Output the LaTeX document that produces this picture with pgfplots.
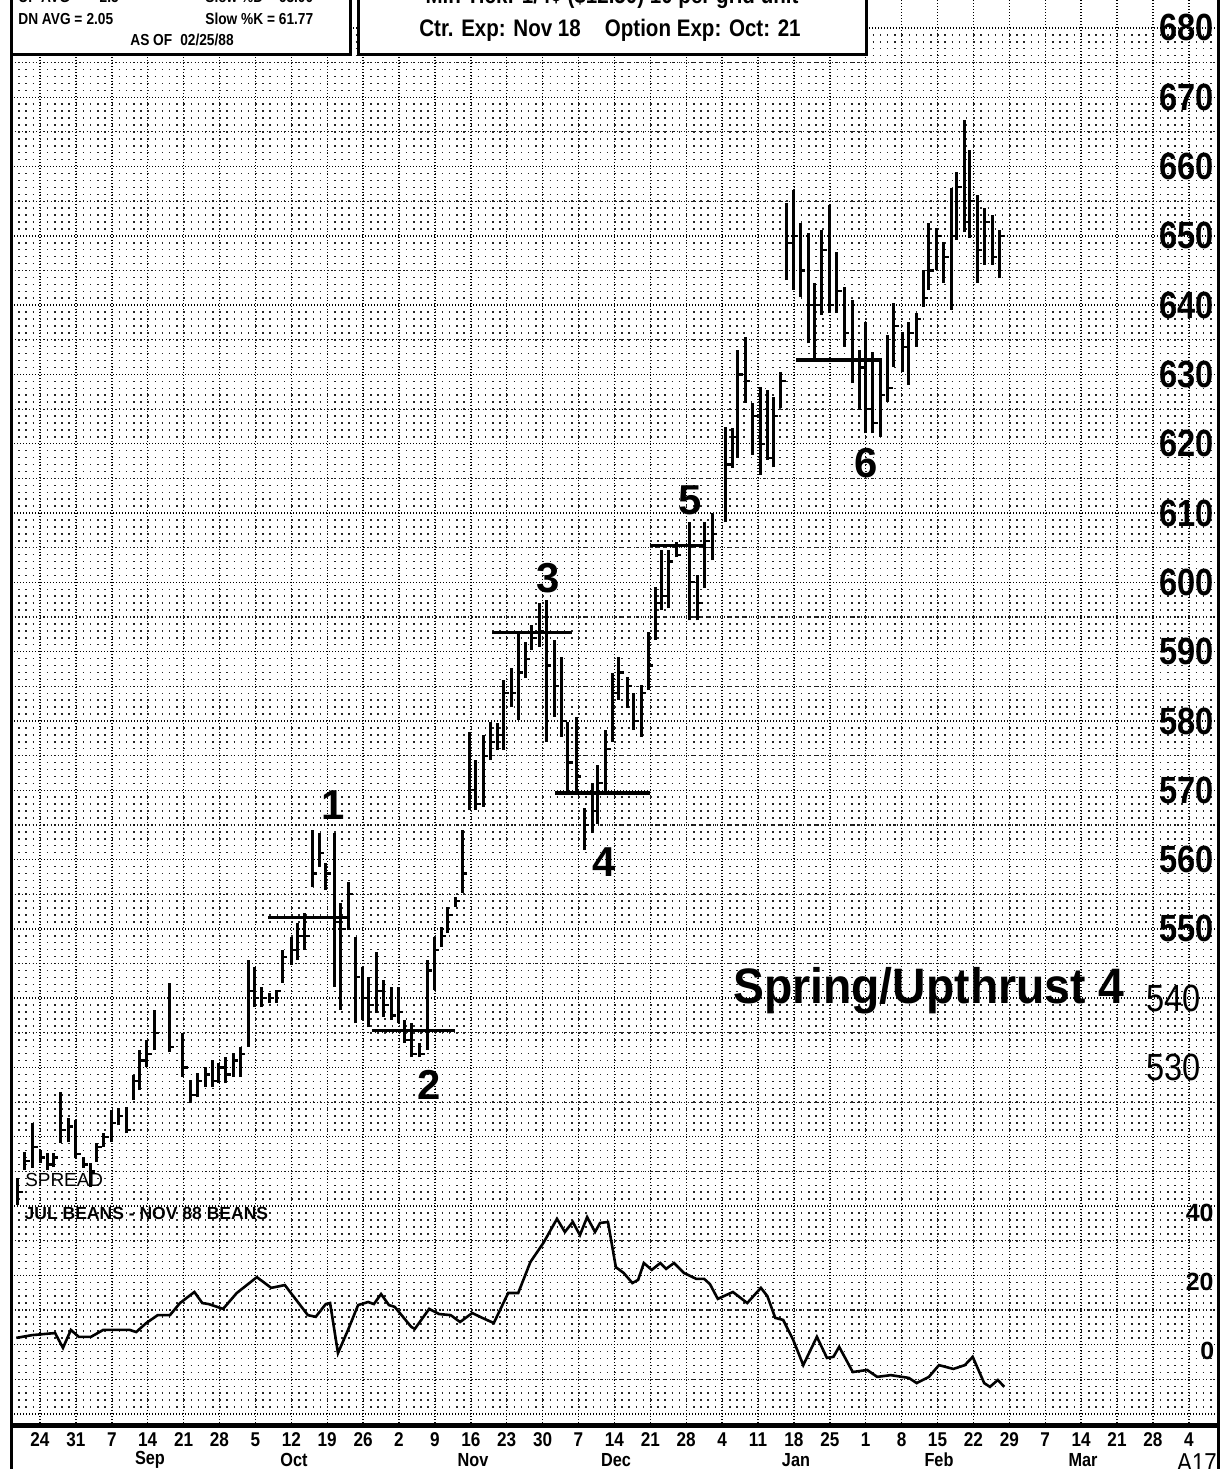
\documentclass[border=0pt]{standalone}
\usepackage{fontspec}
\setmainfont{Liberation Sans}
\newfontfamily\cond{Liberation Sans}[FakeStretch=0.86]
\usepackage{pgfplots}
\usepackage{pgfplotstable}
\pgfplotsset{compat=1.18}

% close tick to the right of a bar
\pgfdeclareplotmark{rtick}{%
  \pgfpathmoveto{\pgfpointorigin}%
  \pgfpathlineto{\pgfpoint{\pgfplotmarksize}{0pt}}%
  \pgfusepathqstroke}

% trading day (0 = Aug 24), high, low, close
\pgfplotstableread{
d     hi     lo     cl
-3.1  514.0  510.2  512
-2.1  517.8  515.2  516.5
-1.0  522.0  515.5  518.5
0.0   518.1  516.2  517
1.0   517.7  515.2  516
1.9   517.7  515.6  517
2.9   526.5  519.1  521
3.9   522.7  519.2  521.5
5.0   522.4  516.9  517.5
6.0   517.1  515.5  516
7.0   516.2  512.7  515
7.9   519.1  516.4  518.5
8.9   520.5  518.5  520
9.9   523.9  519.2  522
10.9  524.1  521.7  523
12.0  524.3  520.5  521
13.0  528.9  525.3  528
13.9  532.5  526.8  531
14.9  534.0  530.0  532
15.9  538.3  532.5  535
18.0  542.2  532.2  533
19.9  535.0  528.6  530
21.0  528.2  524.9  526
21.9  529.2  525.7  528
23.0  530.0  527.2  529
24.0  531.1  527.2  528
24.9  530.6  527.8  530
25.9  531.5  527.8  529
26.9  532.1  528.6  531
27.9  533.0  528.6  532
29.0  545.5  533.0  541
29.9  544.5  538.7  540
30.9  541.6  538.7  540
31.9  540.7  539.3  540
32.9  541.2  539.3  541
33.8  547.0  542.2  546
35.0  548.8  544.8  547
35.9  550.8  545.5  549
36.9  552.3  547.0  549
37.9  564.3  556.0  558
38.9  563.8  558.9  561
39.8  559.5  555.6  558
41.0  563.8  541.6  551
41.9  553.7  538.3  550
42.9  556.8  549.8  555
43.9  548.8  536.4  543
44.9  544.5  536.9  540
45.8  543.1  535.8  539
46.9  546.7  537.9  541
47.9  542.6  537.3  539
48.9  541.6  536.9  537.5
49.9  541.6  536.4  538
50.8  536.9  533.5  534
51.8  536.4  531.5  532
52.9  533.5  531.5  532
53.9  545.5  532.5  544
54.9  548.8  541.2  547
55.9  550.3  547.4  549
56.8  553.2  549.4  552
57.8  554.6  553.2  554
58.8  564.3  555.2  558
59.8  578.4  567.2  570
60.7  574.4  567.2  568
61.7  578.0  567.6  575
62.7  579.8  574.4  577
63.7  579.7  575.8  578
64.6  585.9  575.8  584
65.6  587.6  582.0  584
66.6  592.7  580.1  587
67.6  591.4  586.2  589
68.5  593.8  590.2  592
69.5  597.0  590.7  593
70.5  597.4  577.0  588
71.6  591.7  580.6  585
72.6  589.2  577.7  580
73.5  579.8  569.6  574
74.7  580.6  569.6  572
75.8  567.4  561.4  565
76.9  571.0  563.8  567
77.7  573.6  565.2  571
78.8  578.7  569.6  576
79.7  586.9  577.0  584
80.6  589.2  583.0  587
81.8  586.3  581.9  585
82.7  584.0  578.7  580
83.8  585.2  577.7  584
84.7  592.8  584.4  588
85.7  599.3  591.7  597
86.6  604.6  596.0  598
87.5  604.6  596.3  603
88.6  605.8  603.6  604
90.5  608.7  594.5  600
91.6  601.0  594.5  597
92.6  608.7  599.2  606
93.6  610.0  603.2  607
95.5  622.4  608.7  617
96.4  622.3  616.5  621
97.2  633.5  618.0  630
98.2  635.4  625.9  629
99.3  625.9  618.4  624
100.3 628.2  615.5  620
101.3 627.7  617.7  618
102.1 626.7  616.6  624
103.2 630.4  625.2  629
104.0 654.7  643.6  649
104.9 656.6  642.2  650
105.9 651.8  641.2  645
107.0 650.4  634.5  640
107.9 643.2  632.1  640
108.9 650.8  638.6  648
109.9 654.4  638.9  640
111.0 647.7  638.9  642
112.0 642.6  634.0  636
113.1 640.7  628.7  632
114.1 633.5  624.9  631
115.0 637.5  621.5  625
116.0 633.2  621.5  623
117.0 632.4  621.0  627
118.1 635.7  626.0  628
118.9 640.3  631.1  637
120.1 636.1  630.4  634
121.0 637.5  628.5  636
122.1 638.9  634.0  638
123.0 645.1  639.7  641
123.8 651.8  642.2  645
124.8 651.1  645.1  650
125.9 649.1  643.2  647
126.9 656.9  639.3  650
127.7 659.2  649.4  657
128.7 666.7  650.5  652
129.5 662.4  649.7  655
130.5 655.9  643.2  648
131.6 654.0  645.8  652
132.6 653.0  645.8  647
133.7 650.8  643.9  650
}\bars

\begin{document}
\begin{tikzpicture}[x=0.5bp,y=0.5bp]
\useasboundingbox (0,0) rectangle (1226,1469);
\clip (0,0) rectangle (1226,1469);

% price panel with the chart paper grid
\begin{axis}[
    at={(5.5bp,21.5bp)}, anchor=south west,
    scale only axis, width=603.5bp, height=713bp,
    xmin=-4.04, xmax=164.07, ymin=478.27, ymax=684.04,
    axis line style={draw=none},
    xtick={0,5,...,160}, ytick={480,490,...,680},
    extra y ticks={485,495,...,675}, extra y tick labels={},
    minor y tick num=9,
    xticklabels={}, yticklabels={},
    major tick length=0pt, minor tick length=0pt,
    grid=both,
    major grid style={black, line width=0.7bp, dash pattern=on 0.7bp off 0.8bp},
    minor grid style={black!85, line width=0.75bp, dash pattern=on 0.75bp off 2.84bp},
    extra tick style={major grid style={black!90, line width=0.6bp, dash pattern=on 0.6bp off 1.2bp}},
]
\addplot[draw=none, mark=none,
  error bars/.cd, y dir=plus, y explicit, error mark=none,
  error bar style={draw=black, line width=1.5bp}]
  table[x=d, y=lo, y error expr=\thisrow{hi}-\thisrow{lo}] {\bars};
\addplot[only marks, mark=rtick, mark size=2.4bp,
  mark options={line width=1.1bp, black}]
  table[x=d, y=cl] {\bars};

% support / resistance lines
\addplot[black, line width=1.6bp] coordinates {(31.8,551.6) (43.2,551.6)};
\addplot[black, line width=1.6bp] coordinates {(46.2,535.3) (57.8,535.3)};
\addplot[black, line width=1.6bp] coordinates {(63.0,592.8) (74.1,592.8)};
\addplot[black, line width=1.6bp] coordinates {(71.7,569.6) (85.0,569.6)};
\addplot[black, line width=1.6bp] coordinates {(85.0,605.3) (92.3,605.3)};
\addplot[black, line width=1.6bp] coordinates {(105.3,632.1) (117.0,632.1)};

\begin{scope}[font=\fontsize{21}{21}\selectfont\bfseries]
\node at (axis cs:40.8,567.9) {1};
\node at (axis cs:54.2,527.5) {2};
\node at (axis cs:70.8,600.6) {3};
\node at (axis cs:78.6,559.6) {4};
\node at (axis cs:90.5,611.9) {5};
\node at (axis cs:115.0,617.2) {6};
\end{scope}

\node[anchor=base west, inner sep=0pt, xscale=0.93,
  font=\fontsize{25}{25}\selectfont\bfseries] at (axis cs:96.5,539.3) {Spring/Upthrust 4};

\pgfplotsinvokeforeach{550,560,...,680}{
  \node[anchor=east, inner sep=0pt, font=\cond\bfseries\fontsize{19}{19}\selectfont]
    at (axis cs:163.5,#1) {#1};}
\node[anchor=east, inner sep=0pt, font=\cond\fontsize{19}{19}\selectfont] at (axis cs:161.7,540) {540};
\node[anchor=east, inner sep=0pt, font=\cond\fontsize{19}{19}\selectfont] at (axis cs:161.7,530) {530};

\node[anchor=west, inner sep=0pt, font=\fontsize{9.5}{9.5}\selectfont] at (axis cs:-2.1,513.8) {SPREAD};
\node[anchor=west, inner sep=0pt, font=\bfseries\fontsize{8.8}{8.8}\selectfont] at (axis cs:-2.2,509.0) {JUL BEANS - NOV 88 BEANS};
\end{axis}

% spread panel, same frame
\begin{axis}[
    at={(5.5bp,21.5bp)}, anchor=south west,
    scale only axis, width=603.5bp, height=713bp,
    xmin=-4.04, xmax=164.07, ymin=-21.74, ymax=391.59,
    hide axis,
]
\addplot[black, line width=1.3bp] coordinates {
(-3.3,3.8) (-1.1,4.6) (2.1,5.2) (3.2,0.9) (4.3,6.1) (5.4,4.1) (7.1,4.1)
(8.8,6.1) (12.5,6.1) (13.4,5.5) (14.8,8.1) (16.4,10.4) (18.1,10.4)
(19.5,13.9) (21.5,17.1) (22.6,13.9) (23.5,13.6) (25.5,12.2) (27.4,16.8)
(30.2,21.4) (32.2,18.3) (34.1,19.1) (37.3,10.4) (38.4,9.9) (39.8,13.6)
(40.4,13.9) (41.5,-0.6) (42.9,6.1) (44.3,13.3) (45.7,14.2) (46.5,13.6)
(47.5,16.5) (48.6,13.3) (49.4,12.8) (51.7,7.0) (52.2,6.4) (54.2,12.2)
(55.6,10.7) (57.2,10.4) (58.5,8.4) (60.2,11.0) (61.6,9.6) (63.2,8.1)
(65.2,16.8) (66.6,16.8) (68.3,25.8) (70.1,31.3) (72.0,38.3) (73.1,34.5)
(74.2,37.4) (75.2,33.6) (76.2,38.8) (77.3,34.5) (78.0,37.1) (79.1,37.4)
(80.2,24.3) (81.3,22.6) (82.5,19.7) (83.3,20.6) (84.1,25.5) (85.2,23.5)
(86.4,25.5) (87.2,23.8) (88.3,25.5) (89.7,22.6) (91.4,20.9) (92.5,20.9)
(93.3,19.4) (94.4,15.1) (96.5,17.1) (98.5,13.9) (100.4,18.3) (101.3,15.9)
(102.4,9.6) (103.5,9.0) (104.9,3.2) (106.3,-4.1) (108.2,4.1) (109.6,-2.0)
(110.5,-1.7) (111.3,1.2) (113.2,-6.1) (115.2,-5.5) (116.6,-7.5) (118.5,-7.0)
(121.0,-7.8) (122.1,-9.3) (123.8,-7.5) (125.2,-4.1) (127.2,-5.2) (128.8,-4.1)
(129.9,-1.7) (131.5,-9.3) (132.3,-10.4) (133.4,-8.4) (134.3,-10.4)
};
\begin{scope}[font=\bfseries\fontsize{12.5}{12.5}\selectfont]
\node[anchor=east, inner sep=0pt] at (axis cs:163.5,40) {40};
\node[anchor=east, inner sep=0pt] at (axis cs:163.5,20) {20};
\node[anchor=east, inner sep=0pt] at (axis cs:163.6,0) {0};
\end{scope}
\end{axis}

% frame
\draw[line width=1.5bp] (11,0) -- (11,1469);
\draw[line width=1.5bp] (1218,0) -- (1218,1469);
\draw[line width=2.5bp] (11,43) -- (1218,43);

% header boxes
\draw[line width=1.5bp, fill=white] (11,1414) rectangle (350,1480);
\draw[line width=1.5bp, fill=white] (358,1414) rectangle (866,1480);
\begin{scope}[font=\cond\bfseries\fontsize{8}{8}\selectfont, inner sep=0pt]
\node[anchor=west] at (18,1472) {UP AVG =\hspace{9bp}2.5};
\node[anchor=west] at (205,1472) {Slow \%D = 63.00};
\node[anchor=west] at (18,1450) {DN AVG =\hspace{2bp}2.05};
\node[anchor=west] at (205,1450) {Slow \%K = 61.77};
\node[anchor=west] at (130,1429) {AS OF\hspace{4bp}02/25/88};
\end{scope}
\begin{scope}[font=\cond\bfseries\fontsize{12}{12}\selectfont, inner sep=0pt]
\node at (612,1472) {Min Tick: 1/4¢ (\$12.50) 10 per grid unit};
\node at (610,1439) {Ctr. Exp: Nov 18\hspace{12bp}Option Exp: Oct: 21};
\end{scope}

% date axis
\foreach \l [count=\i from 0] in {24,31,7,14,21,28,5,12,19,26,2,9,16,23,30,7,14,21,28,4,11,18,25,1,8,15,22,29,7,14,21,28,4}
  \node[font=\cond\bfseries\fontsize{10}{10}\selectfont, inner sep=0pt] at ({40+35.9*\i},29) {\l};
\begin{scope}[font=\cond\bfseries\fontsize{9.5}{9.5}\selectfont, inner sep=0pt]
\node at (150,9) {Sep};
\node at (294,9) {Oct};
\node at (473,9) {Nov};
\node at (616,9) {Dec};
\node at (796,9) {Jan};
\node at (939,9) {Feb};
\node at (1083,9) {Mar};
\end{scope}
\node[font=\cond\fontsize{13}{13}\selectfont, inner sep=0pt] at (1197,6) {A17};
\end{tikzpicture}
\end{document}
